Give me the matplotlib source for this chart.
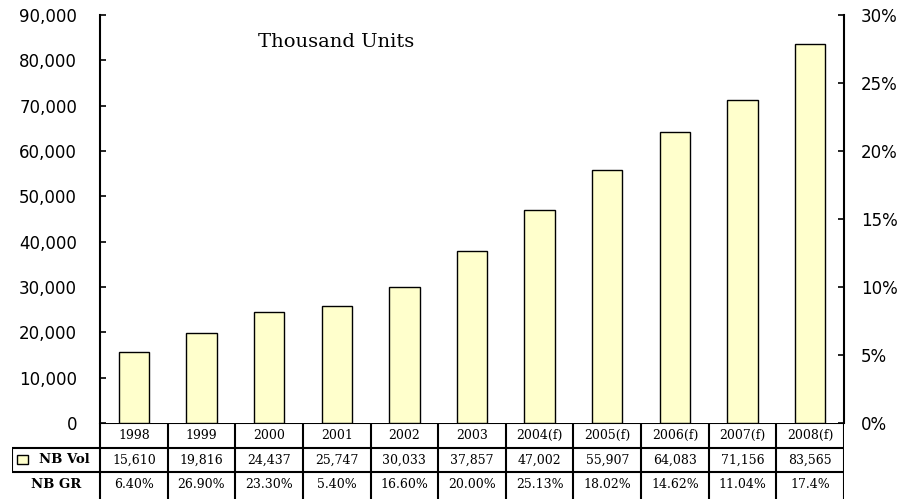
# NB volume chart with data table underneath

import numpy as np
import matplotlib.pyplot as plt
from matplotlib.patches import Rectangle

# Data
years = ["1998", "1999", "2000", "2001", "2002", "2003",
         "2004(f)", "2005(f)", "2006(f)", "2007(f)", "2008(f)"]
nb_vol = [15610, 19816, 24437, 25747, 30033, 37857,
          47002, 55907, 64083, 71156, 83565]
nb_gr = ["6.40%", "26.90%", "23.30%", "5.40%", "16.60%", "20.00%",
         "25.13%", "18.02%", "14.62%", "11.04%", "17.4%"]
row_names = ["NB Vol", "NB GR"]
left_ticks = np.arange(0, 90001, 10000)
right_ticks = np.arange(0, 0.301, 0.05)

W, H = 903, 499
fig = plt.figure(figsize=(W / 100, H / 100), dpi=100)

# plot area in pixels
x0, x1, y0, y1 = 100, 844, 423, 15
ax = fig.add_axes([x0 / W, 1 - y0 / H, (x1 - x0) / W, (y0 - y1) / H])

n = len(years)
x = np.arange(n)
ax.bar(x, nb_vol, width=0.45, color="#FFFFCC", edgecolor="black", linewidth=1)
ax.set_xlim(-0.5, n - 0.5)
ax.set_ylim(0, 90000)
ax.set_yticks(left_ticks)
ax.set_yticklabels([f"{v:,}" for v in left_ticks], fontsize=12)
ax.set_xticks([])
ax.tick_params(axis="y", direction="in", length=4, width=1.2, pad=16.5)
for s in ["top", "right", "bottom"]:
    ax.spines[s].set_visible(False)
ax.spines["left"].set_linewidth(1.5)

ax2 = ax.twinx()
ax2.set_ylim(0, 0.30)
ax2.set_yticks(right_ticks)
ax2.set_yticklabels([f"{int(round(t * 100))}%" for t in right_ticks], fontsize=12)
ax2.tick_params(axis="y", direction="in", length=4, width=1.2, pad=12)
for s in ["top", "left", "bottom"]:
    ax2.spines[s].set_visible(False)
ax2.spines["right"].set_linewidth(1.5)

ax.text(0.213, 0.935, "Thousand Units", transform=ax.transAxes,
        fontsize=14, family="DejaVu Serif", va="center")

# data table below the plot, same column scale as the bars
lab_w = (x0 - 12) / ((x1 - x0) / n)   # row label column width in bar units
tab = fig.add_axes([12 / W, 0, (x1 - 12) / W, (H - y0) / H])
tab.set_xlim(-0.5 - lab_w, n - 0.5)
tab.set_ylim(3.1, 0)
tab.axis("off")

lw = 1.5
tab.hlines(0, -0.5, n - 0.5, color="black", lw=lw)
tab.hlines([1, 2], -0.5 - lab_w, n - 0.5, color="black", lw=lw)
tab.vlines(np.arange(n + 1) - 0.5, 0, 3.1, color="black", lw=lw)
tab.vlines(-0.5 - lab_w, 1, 2, color="black", lw=lw)

tfont = dict(ha="center", va="center", family="DejaVu Serif", fontsize=9)
for i in range(n):
    tab.text(i, 0.5, years[i], **tfont)
    tab.text(i, 1.5, f"{nb_vol[i]:,}", **tfont)
    tab.text(i, 2.5, nb_gr[i], **tfont)

lab_c = -0.5 - lab_w / 2
tab.text(lab_c + 0.12, 1.5, row_names[0], ha="center", va="center",
         family="DejaVu Serif", fontsize=9.5, fontweight="bold")
tab.text(lab_c, 2.5, row_names[1], ha="center", va="center",
         family="DejaVu Serif", fontsize=9.5, fontweight="bold")

# legend key in the NB Vol row label
tab.add_patch(Rectangle((-0.5 - lab_w + 0.08, 1.32), 0.15, 0.36,
                        facecolor="#FFFFCC", edgecolor="black", linewidth=1))

fig.savefig("out.png", dpi=100)
